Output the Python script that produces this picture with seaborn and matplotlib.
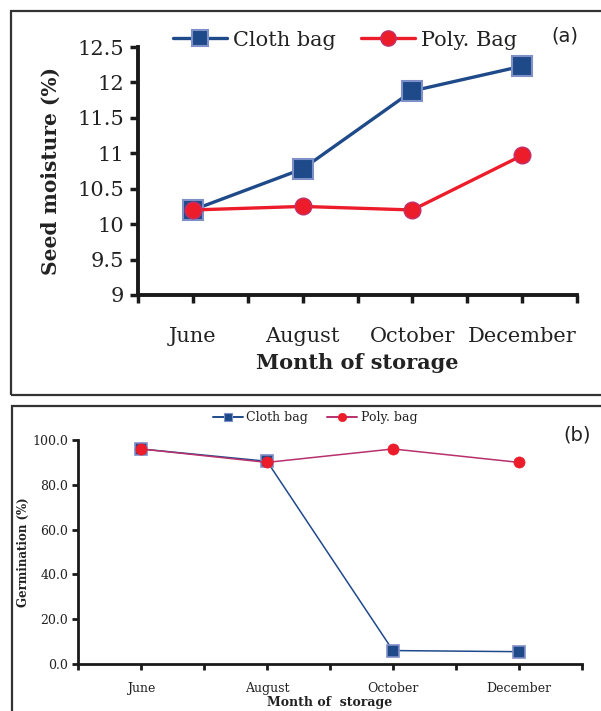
import matplotlib
matplotlib.use("Agg")
import matplotlib.pyplot as plt
import seaborn as sns
import pandas as pd
from matplotlib.patches import Rectangle
from matplotlib.lines import Line2D

months = ["June", "August", "October", "December"]
moisture_cloth = [10.2, 10.78, 11.88, 12.23]
moisture_poly = [10.2, 10.25, 10.2, 10.97]
germ_cloth = [96.0, 90.5, 6.0, 5.5]
germ_poly = [96.0, 90.0, 96.0, 90.0]
ticks_a = [9, 9.5, 10, 10.5, 11, 11.5, 12, 12.5]
ticklabels_a = ["9", "9.5", "10", "10.5", "11", "11.5", "12", "12.5"]
ticks_b = [0, 20, 40, 60, 80, 100]

sns.set_theme(style="ticks")
plt.rcParams["font.family"] = ["DejaVu Serif"]

W, H = 601, 711
fig = plt.figure(figsize=(W / 100, H / 100), dpi=100)

def ax_rect(l, r, t, b):
    return [l / W, 1 - b / H, (r - l) / W, (b - t) / H]

BLUE = "#1f4a8a"
BLUE_EDGE = "#7f8fc8"
RED = "#ec1c2a"
RED_EDGE = "#c0306a"
MAGENTA = "#b8306c"
TXT = "#222222"

# frames
fig.patches.append(Rectangle((11 / W, 1 - 395 / H), 620 / W, 384 / H, transform=fig.transFigure,
                             fill=False, edgecolor="#333333", linewidth=1.6))
fig.patches.append(Rectangle((12 / W, 1 - 720 / H), 620 / W, 314 / H, transform=fig.transFigure,
                             fill=False, edgecolor="#333333", linewidth=1.6))

# ---------------- panel (a)
ax = fig.add_axes(ax_rect(138, 577, 47, 295))
dfa = pd.DataFrame({"Month": months, "Cloth": moisture_cloth, "Poly": moisture_poly})
sns.lineplot(data=dfa, x="Month", y="Cloth", ax=ax, color=BLUE, linewidth=2.4, marker="s",
             markersize=14, markerfacecolor=BLUE, markeredgecolor=BLUE_EDGE, markeredgewidth=1.5, sort=False)
sns.lineplot(data=dfa, x="Month", y="Poly", ax=ax, color=RED, linewidth=2.4, marker="o",
             markersize=12, markerfacecolor=RED, markeredgecolor=RED_EDGE, markeredgewidth=1.0, sort=False)
ax.set_xlim(-0.5, 3.5)
ax.set_ylim(9, 12.5)
ax.set_yticks(ticks_a)
ax.set_yticklabels(ticklabels_a)
ax.set_xticks([0, 1, 2, 3])
ax.set_xticklabels(months)
ax.set_xticks([-0.5, 0.5, 1.5, 2.5, 3.5], minor=True)
for s in ["top", "right"]:
    ax.spines[s].set_visible(False)
for s in ["left", "bottom"]:
    ax.spines[s].set_linewidth(2.8)
    ax.spines[s].set_color("#1a1a1a")
ax.tick_params(axis="y", direction="out", length=6, width=2.5, labelsize=15, colors="#1a1a1a",
               labelcolor=TXT, pad=4)
ax.tick_params(axis="x", which="both", direction="out", length=6, width=2.5, colors="#1a1a1a")
ax.tick_params(axis="x", which="major", labelsize=15, labelcolor=TXT, pad=17)
ax.set_xlabel("Month of storage", fontsize=15, fontweight="bold", color=TXT, labelpad=5)
ax.set_ylabel("Seed moisture (%)", fontsize=14.5, fontweight="bold", color=TXT, labelpad=12)
ax.patch.set_alpha(0)
ha = [Line2D([], [], color=BLUE, lw=2.4, marker="s", markersize=12, markerfacecolor=BLUE,
             markeredgecolor=BLUE_EDGE, markeredgewidth=1.5),
      Line2D([], [], color=RED, lw=2.4, marker="o", markersize=11, markerfacecolor=RED,
             markeredgecolor=RED_EDGE, markeredgewidth=1.0)]
leg = ax.legend(ha, ["Cloth bag", "Poly. Bag"], loc="center", bbox_to_anchor=((345 - 138) / 439, 1 + 7 / 248),
                ncol=2, frameon=False, fontsize=15, handlelength=2.6, columnspacing=1.2, handletextpad=0.3)
for t in leg.get_texts():
    t.set_color(TXT)
fig.text(565 / W, 1 - 36 / H, "(a)", fontsize=14, family="DejaVu Sans", ha="center", va="center", color=TXT)

# ---------------- panel (b)
bx = fig.add_axes(ax_rect(78, 582, 440, 664))
dfb = pd.DataFrame({"Month": months, "Cloth": germ_cloth, "Poly": germ_poly})
sns.lineplot(data=dfb, x="Month", y="Cloth", ax=bx, color=BLUE, linewidth=1.1, marker="s",
             markersize=9, markerfacecolor=BLUE, markeredgecolor=BLUE_EDGE, markeredgewidth=1.2, sort=False)
sns.lineplot(data=dfb, x="Month", y="Poly", ax=bx, color=MAGENTA, linewidth=1.1, marker="o",
             markersize=8, markerfacecolor=RED, markeredgecolor=RED, markeredgewidth=0.5, sort=False)
bx.set_xlim(-0.5, 3.5)
bx.set_ylim(0, 100)
bx.set_yticks(ticks_b)
bx.set_yticklabels([f"{v:.1f}" for v in ticks_b])
bx.set_xticks([0, 1, 2, 3])
bx.set_xticklabels(months)
bx.set_xticks([-0.5, 0.5, 1.5, 2.5, 3.5], minor=True)
for s in ["top", "right"]:
    bx.spines[s].set_visible(False)
for s in ["left", "bottom"]:
    bx.spines[s].set_linewidth(2.0)
    bx.spines[s].set_color("#1a1a1a")
bx.tick_params(axis="y", direction="out", length=4, width=2.0, labelsize=9, colors="#1a1a1a",
               labelcolor=TXT, pad=3)
bx.tick_params(axis="x", which="both", direction="out", length=4, width=2.0, colors="#1a1a1a")
bx.tick_params(axis="x", which="major", labelsize=9, labelcolor=TXT, pad=9)
bx.set_xlabel("Month of  storage", fontsize=9, fontweight="bold", color=TXT, labelpad=0.5)
bx.set_ylabel("Germination (%)", fontsize=8.5, fontweight="bold", color=TXT, labelpad=2)
bx.patch.set_alpha(0)
hb = [Line2D([], [], color=BLUE, lw=1.4, marker="s", markersize=6, markerfacecolor=BLUE,
             markeredgecolor=BLUE_EDGE, markeredgewidth=0.8),
      Line2D([], [], color=MAGENTA, lw=1.4, marker="o", markersize=6, markerfacecolor=RED,
             markeredgecolor=RED, markeredgewidth=0.5)]
legb = bx.legend(hb, ["Cloth bag", "Poly. bag"], loc="center", bbox_to_anchor=((315 - 78) / 504, 1 + 22 / 224),
                 ncol=2, frameon=False, fontsize=9, handlelength=2.4, columnspacing=1.5, handletextpad=0.3)
for t in legb.get_texts():
    t.set_color(TXT)
fig.text(577 / W, 1 - 435 / H, "(b)", fontsize=14, family="DejaVu Sans", ha="center", va="center", color=TXT)

fig.savefig("out.png", dpi=100)
